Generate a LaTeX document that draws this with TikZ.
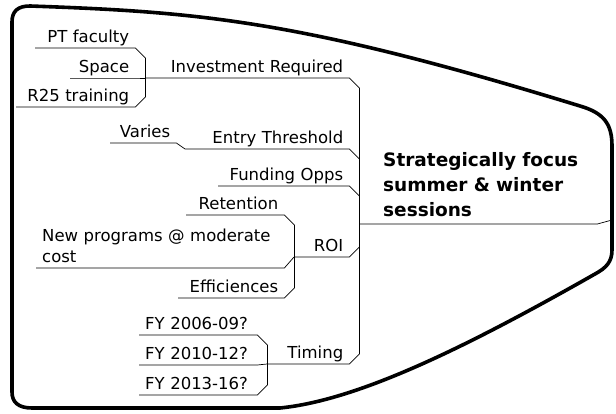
\documentclass[tikz,border=0pt]{standalone}
\usepackage{fontspec}
\setmainfont{DejaVu Sans}
\usetikzlibrary{calc}
\newcommand{\leaffont}{\fontsize{16.5}{21}\selectfont}
\newcommand{\rootfont}{\fontsize{18.5}{25}\selectfont\bfseries}

\begin{document}
\begin{tikzpicture}[x=1pt,y=-1pt,
				leaf/.style={anchor=south west, inner xsep=6pt, inner ysep=5pt, text depth=0pt, align=right, text width=#1, font=\leaffont},
				leafl/.style={leaf=#1, align=left},
				rootnode/.style={anchor=south west, inner xsep=0pt, inner ysep=7pt, align=left, text width=214pt, font=\rootfont},
				link/.style={line width=0.7pt},
				border/.style={line width=3.6pt, line join=round},
				]
				\useasboundingbox (0,0) rectangle (616,414);
				%Nodes
				\node[rootnode]      (root) 	at 	(383,224)       {Strategically focus\\summer \& winter\\sessions};
				\coordinate          (hub)  	at 	(359,224);
				\coordinate          (tip)  	at 	(612,220);
				\node[leaf=192pt]    (inv)  	at 	(145,78)        {Investment Required};
				\node[leaf=88pt]     (ptf)  	at 	(35,48)         {PT faculty};
				\node[leaf=53pt]     (spc)  	at 	(70,78)         {Space};
				\node[leaf=107pt]    (r25)  	at 	(16,107)        {R25 training};
				\node[leaf=152pt]    (ent)  	at 	(185,149)       {Entry Threshold};
				\node[leaf=54pt]     (vary) 	at 	(110,143)       {Varies};
				\node[leaf=119pt]    (fund) 	at 	(218,186)       {Funding Opps};
				\node[leaf=43pt]     (roi)  	at 	(294,257)       {ROI};
				\node[leaf=86pt]     (ret)  	at 	(186,215)       {Retention};
				\node[leafl=236pt, text depth=] (newp) at (36,268) {New programs @ moderate\\cost};
				\node[leaf=94pt]     (eff)  	at 	(178,298)       {Efficiences};
				\node[leaf=70pt]     (tim)  	at 	(267,364)       {Timing};
				\node[leafl=106pt]   (fya)  	at 	(139,335)       {FY 2006-09?};
				\node[leafl=106pt]   (fyb)  	at 	(139,365)       {FY 2010-12?};
				\node[leafl=106pt]   (fyc)  	at 	(139,395)       {FY 2013-16?};

				%Lines
				\draw[link] (hub) -- (root.south west) -- (root.south east) -- (tip);
				\draw[link] (inv.south west) -- (inv.south east) -- ++(10,10) -- ($(tim.south east)+(10,-10)$) -- (tim.south east) -- (tim.south west);
				\draw[link] (ptf.south west) -- (ptf.south east) -- ++(10,10) -- ($(r25.south east)+(10,-10)$) -- (r25.south east) -- (r25.south west);
				\draw[link] (spc.south west) -- (spc.south east) -- (inv.south west);
				\draw[link] (vary.south west) -- (vary.south east) -- (ent.south west) -- (ent.south east) -- ++(10,10);
				\draw[link] (fund.south west) -- (fund.south east) -- ++(10,10);
				\draw[link] (roi.south west) -- (roi.south east) -- ++(10,-10);
				\draw[link] (ret.south west) -- (ret.south east) -- ++(10,10) -- ($(eff.south east)+(10,-10)$) -- (eff.south east) -- (eff.south west);
				\draw[link] (newp.south west) -- (newp.south east) -- (roi.south west);
				\draw[link] (fya.south west) -- (fya.south east) -- ++(10,10) -- ($(fyc.south east)+(10,-10)$) -- (fyc.south east) -- (fyc.south west);
				\draw[link] (fyb.south west) -- (fyb.south east) -- (tim.south west);

				%Border
				\draw[border] (12,392) -- (12,22) .. controls (12,11) and (18,6) .. (30,6)
				  .. controls (200,12) and (300,20) .. (580,106)
				  .. controls (604,113) and (612,124) .. (612,146) -- (612,250)
				  .. controls (612,262) and (606,268) .. (595,274)
				  .. controls (470,345) and (360,400) .. (280,408) -- (32,408)
				  .. controls (18,408) and (12,402) .. (12,392) -- cycle;
\end{tikzpicture}
\end{document}
